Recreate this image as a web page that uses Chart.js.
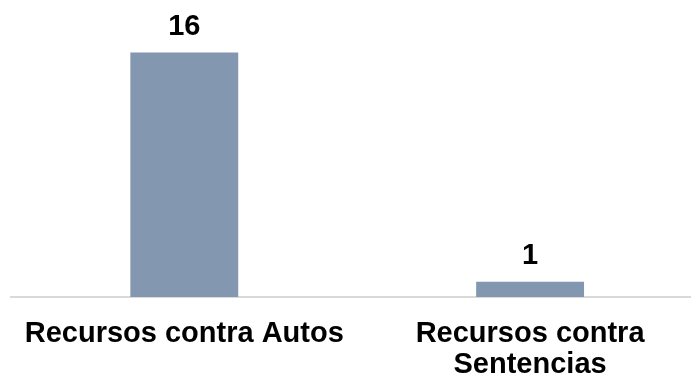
<!DOCTYPE html>
<html>
<head>
<meta charset="utf-8">
<script src="https://cdn.jsdelivr.net/npm/chart.js@4"></script>
<style>
  html, body { margin: 0; padding: 0; background: #fff; overflow: hidden; }
  #wrap { width: 703px; height: 403px; }
</style>
</head>
<body>
<div id="wrap"><canvas id="c" width="703" height="403"></canvas></div>
<script>
const categories = [["Recursos contra Autos"], ["Recursos contra", "Sentencias"]];
const values = [16, 1];
const barColor = "#8497B0";

const valueLabels = {
  id: "valueLabels",
  afterDatasetsDraw(chart) {
    const ctx = chart.ctx;
    const meta = chart.getDatasetMeta(0);
    ctx.save();
    ctx.font = "bold 29px 'Liberation Sans', Arial, sans-serif";
    ctx.fillStyle = "#000";
    ctx.textAlign = "center";
    ctx.textBaseline = "alphabetic";
    meta.data.forEach((bar, i) => {
      ctx.fillText(String(values[i]), bar.x, bar.y - 18);
    });
    ctx.restore();
  }
};

new Chart(document.getElementById("c"), {
  type: "bar",
  data: {
    labels: categories,
    datasets: [{
      data: values,
      backgroundColor: barColor,
      borderWidth: 0,
      categoryPercentage: 1,
      barPercentage: 0.312
    }]
  },
  options: {
    responsive: false,
    animation: false,
    devicePixelRatio: 1,
    layout: { padding: { left: 11, right: 0, top: 22, bottom: 0 } },
    plugins: { legend: { display: false }, tooltip: { enabled: false } },
    scales: {
      y: { display: false, min: 0, max: 18 },
      x: {
        grid: { display: false, drawTicks: false },
        border: { display: true, color: "#d9d9d9", width: 2 },
        ticks: {
          color: "#000",
          padding: 22,
          maxRotation: 0,
          autoSkip: false,
          font: { family: "'Liberation Sans', Arial, sans-serif", size: 29, weight: "bold", lineHeight: 1.07 }
        }
      }
    }
  },
  plugins: [valueLabels]
});
</script>
</body>
</html>
